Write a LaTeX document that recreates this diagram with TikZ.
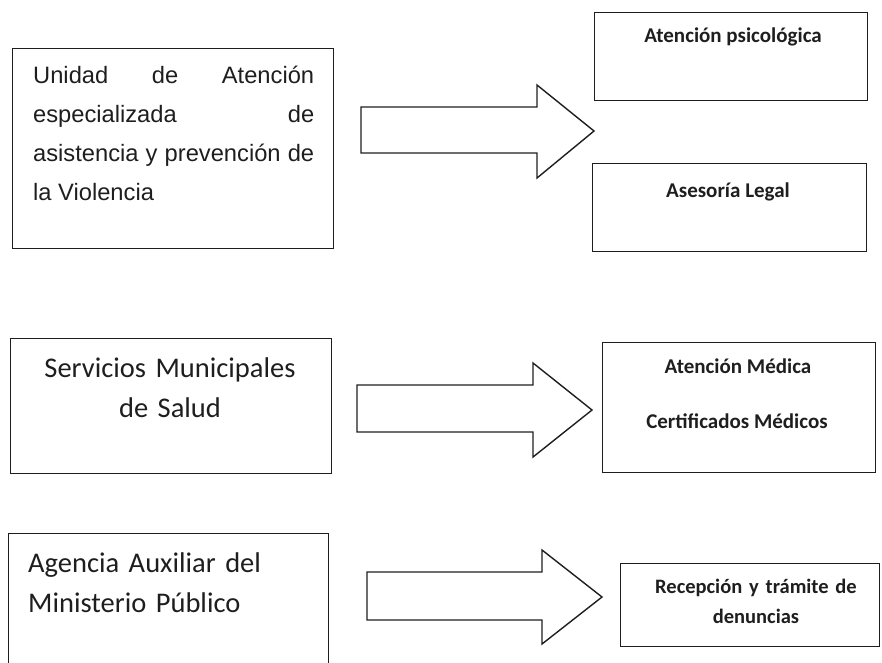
\documentclass[tikz,border=0pt]{standalone}
\usepackage{fontspec}
\setmainfont{Carlito}
\newfontfamily\arialfont{Liberation Sans}
\definecolor{ink}{RGB}{30,30,30}
\begin{document}
\begin{tikzpicture}[x=1pt,y=-1pt,
  box/.style={draw=ink, line width=1.4pt, inner sep=0pt, anchor=north west},
  txt/.style={inner sep=0pt, text=ink},
  bigarrow/.style={draw=ink, line width=1.4pt, line join=miter},
  bigfont/.style={font=\fontsize{28.5}{40}\selectfont},
  smallfont/.style={font=\bfseries\fontsize{21}{31}\selectfont}]
\useasboundingbox (0,0) rectangle (882,662);
% left boxes
\node[box, minimum width=321pt, minimum height=200pt] (b1) at (12,48) {};
\node[box, minimum width=321pt, minimum height=135pt] (b2) at (10,338) {};
\begin{scope}
\clip (0,0) rectangle (882,662);
\node[box, minimum width=320pt, minimum height=160pt] (b3) at (8,533) {};
\end{scope}
% right boxes
\node[box, minimum width=273pt, minimum height=88pt] (r1) at (594,12) {};
\node[box, minimum width=274pt, minimum height=88pt] (r2) at (592,163) {};
\node[box, minimum width=273pt, minimum height=130pt] (r3) at (602,342) {};
\node[box, minimum width=259pt, minimum height=83pt] (r4) at (620,563) {};
% block arrows
\draw[bigarrow] (361,107) -- (537,107) -- (537,85) -- (594,131) -- (537,178) -- (537,153) -- (361,153) -- cycle;
\draw[bigarrow] (357,385) -- (533,385) -- (533,363) -- (592,410) -- (533,457) -- (533,432) -- (357,432) -- cycle;
\draw[bigarrow] (367,572) -- (542,572) -- (542,550) -- (602,597) -- (542,644) -- (542,620) -- (367,620) -- cycle;
% texts
\node[txt, anchor=base west, text width=281pt, align=justify,
  font={\arialfont\fontsize{23.7}{39}\selectfont\hyphenpenalty=10000 \tolerance=10000 \hbadness=10000}]
  (t1) at (33,83) {Unidad de Atención\linebreak especializada de\linebreak asistencia y prevención de\linebreak la Violencia};
\node[txt, bigfont, anchor=base, text width=310pt, align=center] (t2) at (170,377) {Servicios Municipales\\de Salud};
\node[txt, bigfont, anchor=base west, text width=290pt, align=left] (t3) at (28,572) {Agencia Auxiliar del\\Ministerio Público};
\node[txt, smallfont, anchor=base] (tr1) at (733,42) {Atención psicológica};
\node[txt, smallfont, anchor=base] (tr2) at (728,197) {Asesoría Legal};
\node[txt, smallfont, anchor=base] (tr3a) at (738,373) {Atención Médica};
\node[txt, smallfont, anchor=base] (tr3b) at (737,428) {Certificados Médicos};
\node[txt, font=\bfseries\fontsize{20.5}{30}\selectfont, anchor=base, text width=250pt, align=center] (tr4) at (756,593) {Recepción y trámite de\\denuncias};
\end{tikzpicture}
\end{document}
